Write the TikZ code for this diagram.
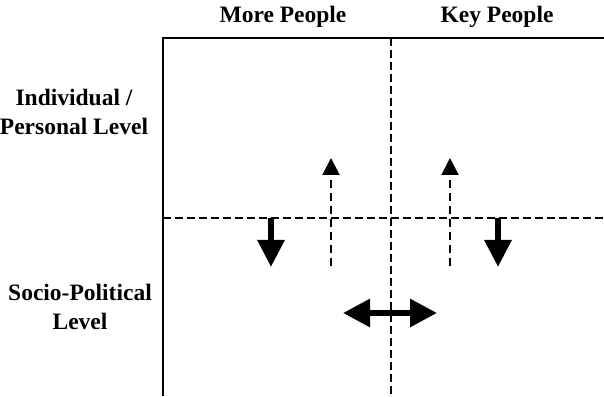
\documentclass[tikz,border=0pt]{standalone}
\usepackage{fontspec}
\setmainfont{Liberation Serif}
\usetikzlibrary{arrows.meta}
\begin{document}
\begin{tikzpicture}[x=1pt,y=1pt,
  label/.style={font=\fontsize{23.5}{29}\selectfont\bfseries, align=center, inner sep=0pt},
  frame/.style={line width=1.5pt},
  divider/.style={line width=1.5pt, dash pattern=on 8pt off 4pt},
  bigarrow/.style={line width=6pt, -{Triangle[width=26pt,length=27pt]}},
  bigdouble/.style={line width=6pt, {Triangle[width=27pt,length=27pt]}-{Triangle[width=27pt,length=27pt]}},
  dasharrow/.style={line width=2pt, dash pattern=on 8pt off 5pt, -{Triangle[width=17pt,length=17pt]}}]
\useasboundingbox (0,0) rectangle (604,396);
% frame
\coordinate (tl) at (163,358);
\coordinate (tr) at (604,358);
\coordinate (bl) at (163,0);
\draw[frame] (bl) -- (tl) -- (tr);
% dividers
\coordinate (vt) at (391,358);
\coordinate (vb) at (391,0);
\coordinate (hl) at (163,178);
\coordinate (hr) at (604,178);
\draw[divider] (vt) -- (vb);
\draw[divider] (hl) -- (hr);
% headers
\node[label] (more) at (283,379) {More People};
\node[label] (key) at (497,379) {Key People};
\node[label] (indiv) at (74,284) {Individual /\\Personal Level};
\node[label] (socio) at (80,89) {Socio-Political\\Level};
% thick down arrows
\coordinate (d1s) at (271,178);
\coordinate (d1e) at (271,129);
\coordinate (d2s) at (498,178);
\coordinate (d2e) at (498,129);
\draw[bigarrow] (d1s) -- (d1e);
\draw[bigarrow] (d2s) -- (d2e);
% dashed up arrows
\coordinate (u1s) at (331,130);
\coordinate (u1e) at (331,238);
\coordinate (u2s) at (450,130);
\coordinate (u2e) at (450,238);
\draw[dasharrow] (u1s) -- (u1e);
\draw[dasharrow] (u2s) -- (u2e);
% double arrow
\coordinate (hL) at (343,83);
\coordinate (hR) at (437,83);
\draw[bigdouble] (hL) -- (hR);
\end{tikzpicture}
\end{document}
